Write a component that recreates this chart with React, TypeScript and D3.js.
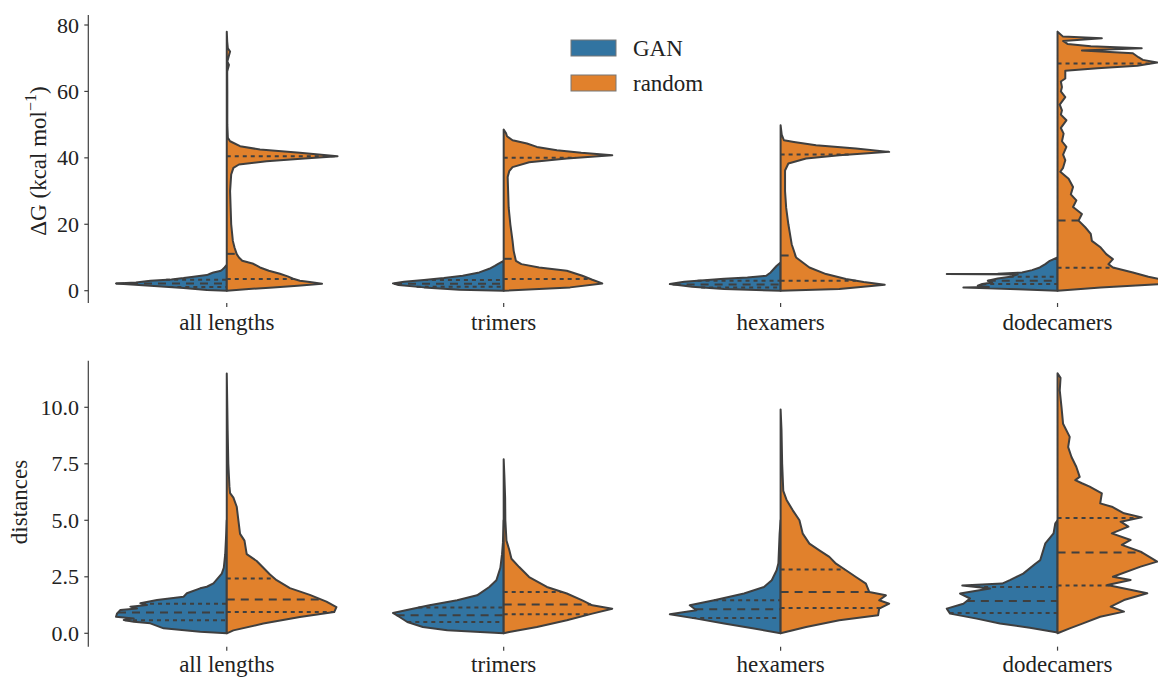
import React, { useRef, useEffect } from "react";
import * as d3 from "d3";

type Profile = [number, number][];

const categories = ["all lengths", "trimers", "hexamers", "dodecamers"];
const hues = ["GAN", "random"];
const colors = ["#3274a1", "#e1812c"];
const edge = "#3f3f3f";

const dgTicks = [0, 20, 40, 60, 80];
const distTicks = [0, 2.5, 5, 7.5, 10];

// ΔG: [value, relative density]
const dgAllGan: Profile = [
  [0, 0], [0.2, 0.18], [0.8, 0.39], [1.5, 0.69], [2.2, 1.0], [2.5, 0.82], [3.0, 0.69],
  [3.4, 0.5], [3.8, 0.39], [4.2, 0.3], [4.7, 0.18], [5.1, 0.15], [5.5, 0.12], [5.9, 0.06],
  [6.2, 0.045], [7, 0.02], [7.8, 0],
];
const dgAllRandom: Profile = [
  [0, 0], [0.5, 0.2], [1, 0.42], [1.5, 0.64], [2.1, 0.86], [2.6, 0.75], [3.0, 0.66],
  [3.6, 0.6], [4.3, 0.55], [5.1, 0.48], [6, 0.38], [7, 0.3], [8.1, 0.24], [9, 0.14],
  [10, 0.11], [11, 0.09], [13, 0.07], [15, 0.055], [20, 0.04], [25, 0.035], [30, 0.03],
  [35, 0.04], [37, 0.06], [38, 0.11], [39, 0.36], [39.8, 0.7], [40.5, 1.0], [41.5, 0.66],
  [42.5, 0.3], [43.5, 0.12], [45, 0.03], [46, 0.01], [50, 0.005], [60, 0.005], [66, 0.004],
  [68, 0.02], [69, 0.005], [72, 0.03], [73, 0.01], [75, 0.004], [78, 0],
];
const dgTriGan: Profile = [
  [0, 0], [0.3, 0.4], [1, 0.72], [1.7, 0.95], [2.2, 1.0], [2.7, 0.9], [3.2, 0.72],
  [3.8, 0.54], [4.5, 0.37], [5.5, 0.22], [6.6, 0.13], [7.5, 0.08], [8.1, 0.05], [9, 0],
];
const dgTriRandom: Profile = [
  [0, 0], [1, 0.6], [2.2, 0.89], [3.3, 0.8], [4.5, 0.71], [6, 0.57], [7, 0.32], [8, 0.16],
  [9, 0.11], [12, 0.09], [15, 0.08], [20, 0.06], [25, 0.045], [30, 0.04], [34.2, 0.036],
  [36, 0.05], [37.2, 0.08], [38.7, 0.23], [39.8, 0.57], [40.8, 0.98], [41.5, 0.7],
  [42.3, 0.48], [43.3, 0.3], [44.3, 0.21], [45.3, 0.08], [46.5, 0.03], [47.5, 0.02], [48.5, 0],
];
const dgHexGan: Profile = [
  [0, 0], [0.5, 0.51], [1.2, 0.8], [2.0, 1.0], [2.7, 0.87], [3.6, 0.51], [4.0, 0.3],
  [4.5, 0.13], [5.5, 0.09], [6.6, 0.06], [7.5, 0.035], [8.5, 0],
];
const dgHexRandom: Profile = [
  [0, 0], [0.5, 0.53], [1.8, 0.94], [2.6, 0.75], [3.5, 0.59], [5, 0.41], [7, 0.26],
  [10, 0.14], [14, 0.1], [20, 0.07], [25, 0.05], [30, 0.04], [36.2, 0.04], [38.3, 0.07],
  [39.8, 0.23], [40.8, 0.53], [41.8, 0.98], [42.8, 0.68], [43.8, 0.32], [44.8, 0.12],
  [45.3, 0.03], [47, 0.01], [49.8, 0],
];
const dgDodGan: Profile = [
  [0, 0], [0.4, 0.36], [0.7, 0.63], [1.0, 0.85], [1.1, 0.62], [1.5, 0.72], [2.0, 0.68],
  [2.5, 0.59], [3.0, 0.63], [3.7, 0.54], [4.3, 0.41], [4.9, 0.36], [5.0, 1.0], [5.1, 0.54],
  [5.5, 0.32], [6.2, 0.23], [7, 0.16], [8, 0.11], [9, 0.07], [10, 0],
];
const dgDodRandom: Profile = [
  [0, 0], [1, 0.39], [2, 0.95], [3, 1.0], [4.2, 0.82], [5.5, 0.68], [7, 0.5], [8, 0.46],
  [9.5, 0.5], [11, 0.44], [13, 0.39], [15, 0.31], [17.1, 0.3], [19.1, 0.25], [21.1, 0.19],
  [23.1, 0.22], [25.2, 0.14], [27.2, 0.17], [29, 0.12], [31.2, 0.14], [33.7, 0.1],
  [35.8, 0.025], [37, 0.05], [39.3, 0.07], [41, 0.05], [43.3, 0.08], [45, 0.04],
  [47.3, 0.055], [49, 0.03], [51.3, 0.08], [53, 0.03], [54.3, 0.04], [56, 0.02],
  [58.3, 0.07], [60, 0.03], [61.3, 0.04], [63, 0.03], [63.9, 0.07], [66.2, 0.07],
  [67.0, 0.36], [67.7, 0.72], [68.7, 0.9], [69.5, 0.77], [70.3, 0.73], [71.5, 0.68],
  [72.3, 0.22], [73.0, 0.76], [73.6, 0.3], [74.3, 0.09], [75.2, 0.05], [76, 0.4],
  [76.5, 0.05], [78, 0],
];

// distances
const distAllGan: Profile = [
  [0, 0], [0.07, 0.24], [0.22, 0.57], [0.44, 0.69], [0.51, 0.84], [0.59, 0.93], [0.66, 0.84],
  [0.73, 1.0], [0.88, 0.99], [1.03, 0.96], [1.1, 0.81], [1.18, 0.87], [1.25, 0.72],
  [1.33, 0.78], [1.47, 0.63], [1.62, 0.39], [1.77, 0.36], [1.99, 0.24], [2.06, 0.18],
  [2.21, 0.12], [2.64, 0.045], [2.9, 0.027], [3.5, 0.014], [4.5, 0.004], [5, 0],
];
const distAllRandom: Profile = [
  [0, 0], [0.13, 0.06], [0.43, 0.33], [0.72, 0.66], [0.94, 0.97], [1.16, 0.99], [1.4, 0.9],
  [1.7, 0.75], [2.0, 0.57], [2.35, 0.45], [2.6, 0.39], [3.2, 0.27], [3.5, 0.18],
  [4.1, 0.16], [4.4, 0.12], [5, 0.105], [5.6, 0.09], [6.0, 0.06], [6.2, 0.03],
  [6.5, 0.024], [7.5, 0.014], [9, 0.008], [10, 0.005], [11.5, 0],
];
const distTriGan: Profile = [
  [0, 0], [0.13, 0.51], [0.28, 0.73], [0.5, 0.87], [0.72, 0.94], [0.9, 1.0], [1.09, 0.82],
  [1.24, 0.67], [1.46, 0.42], [1.68, 0.24], [2.05, 0.13], [2.35, 0.066], [2.9, 0.03],
  [3.5, 0.015], [4, 0.007], [5, 0],
];
const distTriRandom: Profile = [
  [0, 0], [0.06, 0.05], [0.28, 0.3], [0.58, 0.57], [0.87, 0.8], [1.09, 0.98], [1.24, 0.8],
  [1.46, 0.71], [1.76, 0.57], [2.05, 0.39], [2.49, 0.23], [2.93, 0.14], [3.3, 0.07],
  [3.7, 0.05], [4.1, 0.025], [5, 0.015], [6, 0.013], [7, 0.006], [7.7, 0],
];
const distHexGan: Profile = [
  [0, 0], [0.21, 0.24], [0.43, 0.51], [0.65, 0.76], [0.84, 1.0], [1.02, 0.76], [1.24, 0.82],
  [1.46, 0.6], [1.76, 0.33], [2.05, 0.15], [2.35, 0.08], [2.79, 0.036], [3.1, 0.02],
  [4.4, 0.009], [5, 0],
];
const distHexRandom: Profile = [
  [0, 0], [0.28, 0.23], [0.58, 0.53], [0.8, 0.88], [1.09, 0.89], [1.31, 0.98], [1.46, 0.89],
  [1.68, 0.95], [1.83, 0.8], [2.2, 0.77], [2.49, 0.68], [2.79, 0.59], [3.08, 0.5],
  [3.38, 0.44], [3.67, 0.35], [3.97, 0.26], [4.41, 0.2], [5.0, 0.17], [5.44, 0.11],
  [5.9, 0.054], [6.3, 0.024], [7.5, 0.014], [9, 0.008], [9.9, 0],
];
const distDodGan: Profile = [
  [0.04, 0], [0.25, 0.25], [0.43, 0.52], [0.65, 0.73], [0.87, 0.97], [1.09, 1.0],
  [1.31, 0.85], [1.54, 0.79], [1.76, 0.88], [1.98, 0.61], [2.12, 0.86], [2.2, 0.5],
  [2.35, 0.43], [2.64, 0.31], [3.08, 0.2], [3.24, 0.156], [3.98, 0.11], [4.42, 0.036],
  [4.87, 0.02], [5.0, 0],
];
const distDodRandom: Profile = [
  [0, 0], [0.22, 0.11], [0.44, 0.23], [0.73, 0.385], [0.96, 0.6], [1.18, 0.48], [1.47, 0.6],
  [1.77, 0.81], [2.14, 0.45], [2.36, 0.66], [2.5, 0.5], [2.95, 0.75], [3.17, 0.9],
  [3.61, 0.75], [3.91, 0.58], [4.13, 0.66], [4.42, 0.49], [4.72, 0.64], [4.94, 0.57],
  [5.13, 0.76], [5.31, 0.6], [5.6, 0.49], [5.75, 0.385], [6.19, 0.4], [6.49, 0.29],
  [6.64, 0.22], [6.78, 0.16], [6.92, 0.2], [7.36, 0.17], [7.8, 0.126], [8.24, 0.096],
  [8.69, 0.11], [9.27, 0.05], [10, 0.036], [10.75, 0.02], [11.3, 0.027], [11.5, 0],
];

// quartiles [q25, median, q75] per category, GAN then random
const dgQuartiles = [
  [[1.1, 2.2, 3.3], [3.5, 11.1, 40.5]],
  [[1.2, 2.1, 3.2], [3.5, 9.6, 40]],
  [[1.0, 1.9, 3.0], [3.0, 10.6, 41]],
  [[2.0, 3.0, 4.2], [6.9, 21.1, 68.4]],
];
const distQuartiles = [
  [[0.58, 0.92, 1.31], [0.94, 1.5, 2.42]],
  [[0.5, 0.8, 1.14], [0.84, 1.27, 1.83]],
  [[0.68, 1.06, 1.46], [1.12, 1.83, 2.82]],
  [[0.9, 1.43, 2.05], [2.12, 3.57, 5.1]],
];

const dgProfiles = [
  [dgAllGan, dgAllRandom], [dgTriGan, dgTriRandom], [dgHexGan, dgHexRandom], [dgDodGan, dgDodRandom],
];
const distProfiles = [
  [distAllGan, distAllRandom], [distTriGan, distTriRandom], [distHexGan, distHexRandom], [distDodGan, distDodRandom],
];

const font = "'Liberation Serif', 'DejaVu Serif', serif";

function densityAt(p: Profile, v: number) {
  for (let i = 1; i < p.length; i++) {
    if (v <= p[i][0]) {
      const [v0, d0] = p[i - 1];
      const [v1, d1] = p[i];
      const t = (v - v0) / (v1 - v0 || 1);
      return d0 + t * (d1 - d0);
    }
  }
  return 0;
}

const App = () => {
  const svgRef = useRef<SVGSVGElement>(null);

  useEffect(() => {
    const svg = d3.select(svgRef.current);
    svg.selectAll("*").remove();

    const x = d3.scaleBand().domain(categories).range([88.3, 1196]).padding(0);
    const half = d3.scaleLinear().domain([0, 1]).range([0, x.bandwidth() * 0.4]);

    const panels = [
      {
        y: d3.scaleLinear().domain([0, 80]).range([290.7, 25]),
        extent: [-3.7, 83.0], ticks: dgTicks, fmt: (d: number) => String(d),
        profiles: dgProfiles, quartiles: dgQuartiles, xLabelY: 330, labelX: 37.5, labelY: 161,
        label: "dg",
      },
      {
        y: d3.scaleLinear().domain([0, 10]).range([633.3, 407.3]),
        extent: [-0.59, 12.06], ticks: distTicks, fmt: d3.format(".1f"),
        profiles: distProfiles, quartiles: distQuartiles, xLabelY: 672, labelX: 19, labelY: 502,
        label: "distances",
      },
    ];

    panels.forEach((pn) => {
      const g = svg.append("g");
      const y = pn.y;
      const axisX = 88.3;

      // y axis spine and ticks
      g.append("line")
        .attr("x1", axisX).attr("x2", axisX)
        .attr("y1", y(pn.extent[0])).attr("y2", y(pn.extent[1]))
        .attr("stroke", edge).attr("stroke-width", 1.2);
      g.selectAll("line.ytick")
        .data(pn.ticks)
        .join("line")
        .attr("class", "ytick")
        .attr("x1", axisX - 4).attr("x2", axisX)
        .attr("y1", (d) => y(d)).attr("y2", (d) => y(d))
        .attr("stroke", edge).attr("stroke-width", 1.2);
      g.selectAll("text.ytick")
        .data(pn.ticks)
        .join("text")
        .attr("class", "ytick")
        .attr("x", 79)
        .attr("y", (d) => y(d))
        .attr("text-anchor", "end")
        .attr("dominant-baseline", "central")
        .attr("font-family", font)
        .attr("font-size", 22)
        .attr("fill", "#222")
        .text((d) => pn.fmt(d));

      // x ticks and labels
      const xt = y(pn.extent[0]);
      g.selectAll("line.xtick")
        .data(categories)
        .join("line")
        .attr("class", "xtick")
        .attr("x1", (d) => x(d)! + x.bandwidth() / 2)
        .attr("x2", (d) => x(d)! + x.bandwidth() / 2)
        .attr("y1", xt).attr("y2", xt + 4)
        .attr("stroke", edge).attr("stroke-width", 1.2);
      g.selectAll("text.xlab")
        .data(categories)
        .join("text")
        .attr("class", "xlab")
        .attr("x", (d) => x(d)! + x.bandwidth() / 2)
        .attr("y", pn.xLabelY)
        .attr("text-anchor", "middle")
        .attr("font-family", font)
        .attr("font-size", 23)
        .attr("fill", "#222")
        .text((d) => d);

      // axis label
      const lab = g.append("text")
        .attr("transform", `translate(${pn.labelX},${pn.labelY}) rotate(-90)`)
        .attr("text-anchor", "middle")
        .attr("dominant-baseline", "central")
        .attr("font-family", font)
        .attr("font-size", 23)
        .attr("fill", "#222");
      if (pn.label === "dg") {
        lab.append("tspan").text("ΔG (kcal mol");
        lab.append("tspan").attr("font-size", 16).attr("dy", -8).text("−1");
        lab.append("tspan").attr("dy", 8).text(")");
      } else {
        lab.text(pn.label);
      }

      // violins
      categories.forEach((cat, ci) => {
        const cx = x(cat)! + x.bandwidth() / 2;
        [0, 1].forEach((hi) => {
          const prof = pn.profiles[ci][hi] as Profile;
          const sign = hi === 0 ? -1 : 1;
          const pts: [number, number][] = prof.map(([v, d]) => [cx + sign * half(d), y(v)]);
          pts.push([cx, y(prof[prof.length - 1][0])]);
          pts.push([cx, y(prof[0][0])]);
          const line = d3.line().curve(d3.curveLinear);
          g.append("path")
            .attr("d", line(pts) + "Z")
            .attr("fill", colors[hi])
            .attr("stroke", edge)
            .attr("stroke-width", 2)
            .attr("stroke-linejoin", "round");
        });
        [0, 1].forEach((hi) => {
          const prof = pn.profiles[ci][hi] as Profile;
          const q = pn.quartiles[ci][hi];
          q.forEach((v, qi) => {
            const w = half(densityAt(prof, v));
            const x1 = hi === 0 ? cx - w : cx;
            const x2 = hi === 0 ? cx : cx + w;
            g.append("line")
              .attr("x1", x1).attr("x2", x2)
              .attr("y1", y(v)).attr("y2", y(v))
              .attr("stroke", edge)
              .attr("stroke-width", 2)
              .attr("stroke-dasharray", qi === 1 ? "8,6" : "4,4");
          });
        });
      });
    });

    // legend
    const lg = svg.append("g");
    hues.forEach((h, i) => {
      lg.append("rect")
        .attr("x", 571).attr("y", 40 + i * 35)
        .attr("width", 45).attr("height", 16)
        .attr("fill", colors[i])
        .attr("stroke", "#777").attr("stroke-width", 1);
      lg.append("text")
        .attr("x", 633).attr("y", 48 + i * 35)
        .attr("dominant-baseline", "central")
        .attr("font-family", font)
        .attr("font-size", 23)
        .attr("fill", "#222")
        .text(h);
    });
  }, []);

  return (
    <svg
      ref={svgRef}
      width={1158}
      height={677}
      style={{ position: "absolute", left: 0, top: 0, background: "#fff" }}
    />
  );
};

export default App;
